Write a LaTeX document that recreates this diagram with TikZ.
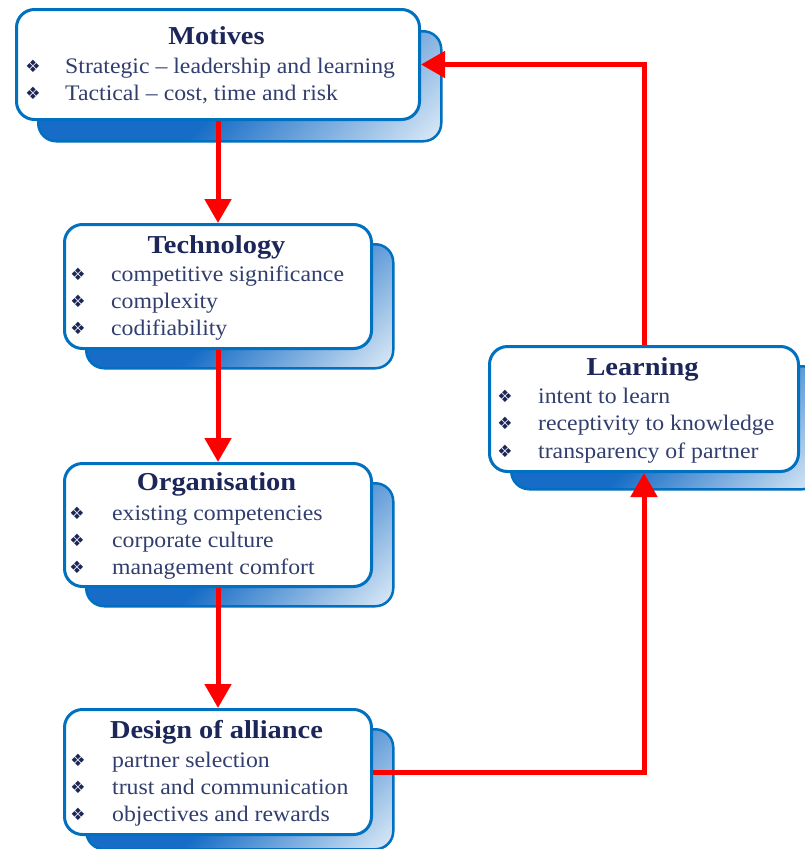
\documentclass[tikz,border=0pt]{standalone}
\usepackage{fontspec}
\setmainfont{Liberation Serif}
\newfontfamily\titlefont[FakeStretch=1.1]{Liberation Serif}
\newfontfamily\itemfont[FakeStretch=1.07]{Liberation Serif}
\newfontfamily\symfont{DejaVu Sans}
\usetikzlibrary{arrows.meta}

\definecolor{boxblue}{RGB}{0,112,192}
\definecolor{sdark}{RGB}{22,108,198}
\definecolor{slight}{RGB}{226,238,248}
\definecolor{titlenavy}{RGB}{28,38,88}
\definecolor{itemnavy}{RGB}{50,62,110}
\definecolor{flowred}{RGB}{255,0,0}

\pgfdeclarehorizontalshading{shadowshade}{100bp}{%
  color(0bp)=(sdark); color(50bp)=(sdark); color(86bp)=(slight); color(100bp)=(slight)}

\tikzset{
  frontbox/.style={draw=boxblue, line width=3pt, fill=white, rounded corners=18pt,
    inner sep=0pt, anchor=north west},
  shadowbox/.style={draw=boxblue, line width=2.5pt, shading=shadowshade, shading angle=-45,
    rounded corners=18pt, inner sep=0pt, anchor=north west},
  titletext/.style={anchor=base, inner sep=0pt, text=titlenavy,
    font=\fontsize{25.8}{30}\titlefont\bfseries},
  itemtext/.style={anchor=base west, inner sep=0pt, text=itemnavy,
    font=\fontsize{22.2}{26}\itemfont},
  bulletmark/.style={anchor=center, inner sep=0pt, text=titlenavy,
    font=\fontsize{17}{17}\symfont},
  flow/.style={draw=flowred, line width=5pt,
    -{Triangle[width=26pt,length=24pt]}}
}

% one bulleted line: name, bullet x, text x, baseline y, text
\newcommand\boxitem[5]{%
  \node[bulletmark] (#1-b) at (#2,#4-7) {❖};
  \node[itemtext] (#1) at (#3,#4) {#5};}

\begin{document}
\begin{tikzpicture}[x=1pt,y=-1pt]
\useasboundingbox (0,0) rectangle (804,849);
\fill[white] (0,0) rectangle (804,849);

% shaded back plates
\node[shadowbox, minimum width=403pt, minimum height=110pt] (motives-sh) at (37,30) {};
\node[shadowbox, minimum width=307pt, minimum height=124pt] (technology-sh) at (85,243) {};
\node[shadowbox, minimum width=307pt, minimum height=123pt] (organisation-sh) at (85,482) {};
\node[shadowbox, minimum width=307pt, minimum height=120pt] (design-sh) at (85,728) {};
\node[shadowbox, minimum width=309pt, minimum height=123pt] (learning-sh) at (510,365) {};

% front boxes
\node[frontbox, minimum width=403pt, minimum height=110pt] (motives) at (15,8) {};
\node[frontbox, minimum width=307pt, minimum height=124pt] (technology) at (63,223) {};
\node[frontbox, minimum width=307pt, minimum height=123pt] (organisation) at (63,462) {};
\node[frontbox, minimum width=307pt, minimum height=125pt] (design) at (63,708) {};
\node[frontbox, minimum width=309pt, minimum height=125pt] (learning) at (488,345) {};

% connectors
\draw[flow] (motives) -- (technology);
\draw[flow] (technology) -- (organisation);
\draw[flow] (organisation) -- (design);
\draw[flow] (design.east) -| (learning.south);
\draw[flow] (learning.north) |- (motives.east);

% Motives
\node[titletext] (motives-t) at (216.5,44) {Motives};
\boxitem{m1}{33}{65}{73}{Strategic – leadership and learning}
\boxitem{m2}{33}{65}{100}{Tactical – cost, time and risk}

% Technology
\node[titletext] (technology-t) at (216.5,253) {Technology};
\boxitem{t1}{78}{111}{281}{competitive significance}
\boxitem{t2}{78}{111}{308}{complexity}
\boxitem{t3}{78}{111}{335}{codifiability}

% Organisation
\node[titletext] (organisation-t) at (216.5,490) {Organisation};
\boxitem{o1}{77}{112}{520}{existing competencies}
\boxitem{o2}{77}{112}{547}{corporate culture}
\boxitem{o3}{77}{112}{574}{management comfort}

% Design of alliance
\node[titletext] (design-t) at (216.5,738) {Design of alliance};
\boxitem{d1}{78}{112}{767}{partner selection}
\boxitem{d2}{78}{112}{794}{trust and communication}
\boxitem{d3}{78}{112}{821}{objectives and rewards}

% Learning
\node[titletext] (learning-t) at (642.5,375) {Learning};
\boxitem{l1}{505}{538}{403}{intent to learn}
\boxitem{l2}{505}{538}{430}{receptivity to knowledge}
\boxitem{l3}{505}{538}{458}{transparency of partner}
\end{tikzpicture}
\end{document}
